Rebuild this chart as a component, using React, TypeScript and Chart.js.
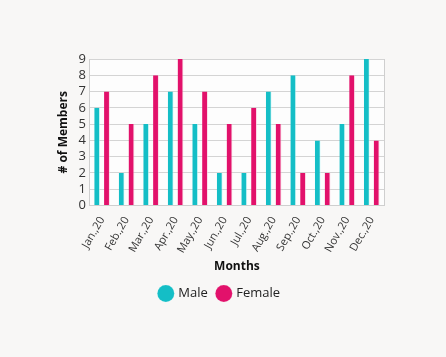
import React, { useEffect, useRef } from "react";
import { Chart, registerables } from "chart.js";

Chart.register(...registerables);

const months = ["Jan.,20", "Feb.,20", "Mar.,20", "Apr.,20", "May.,20", "Jun.,20", "Jul.,20", "Aug.,20", "Sep.,20", "Oct.,20", "Nov.,20", "Dec.,20"];
const maleValues = [6, 2, 5, 7, 5, 2, 2, 7, 8, 4, 5, 9];
const femaleValues = [7, 5, 8, 9, 7, 5, 6, 5, 2, 2, 8, 4];
const yTicks = [0, 1, 2, 3, 4, 5, 6, 7, 8, 9];

const FONT = "'Open Sans', 'DejaVu Sans', sans-serif";

const areaPlugin = {
  id: "areaBg",
  beforeDraw(chart: any) {
    const { ctx, chartArea } = chart;
    ctx.save();
    ctx.fillStyle = "#fdfdfd";
    ctx.fillRect(chartArea.left, chartArea.top, chartArea.right - chartArea.left, chartArea.bottom - chartArea.top);
    ctx.restore();
  },
  afterDatasetsDraw(chart: any) {
    const { ctx, chartArea } = chart;
    ctx.save();
    ctx.strokeStyle = "#cfcfcf";
    ctx.lineWidth = 1;
    ctx.beginPath();
    ctx.moveTo(Math.round(chartArea.right) + 0.5, chartArea.top);
    ctx.lineTo(Math.round(chartArea.right) + 0.5, chartArea.bottom);
    ctx.stroke();
    ctx.restore();
  },
};

export default function App() {
  const ref = useRef<HTMLCanvasElement>(null);
  useEffect(() => {
    document.body.style.margin = "0";
    const chart = new Chart(ref.current!, {
      type: "bar",
      data: {
        labels: months,
        datasets: [
          { label: "Male", data: maleValues, backgroundColor: "#14bec6", borderColor: "rgba(200,250,250,0.6)", borderWidth: { right: 1 } as any, barPercentage: 0.6, categoryPercentage: 0.8 },
          { label: "Female", data: femaleValues, backgroundColor: "#e2116b", borderColor: "rgba(250,200,220,0.6)", borderWidth: { right: 1 } as any, barPercentage: 0.6, categoryPercentage: 0.8 },
        ],
      },
      options: {
        animation: false,
        responsive: false,
        layout: { padding: { left: 56, right: 62, top: 59, bottom: 47 } },
        plugins: {
          legend: {
            position: "bottom",
            labels: { usePointStyle: true, pointStyle: "circle", boxWidth: 12, boxHeight: 12, padding: 10, color: "#222", font: { family: FONT, size: 13 } },
          },
          tooltip: { enabled: false },
        },
        scales: {
          x: {
            grid: { display: false },
            border: { display: true, color: "#cfcfcf" },
            ticks: { color: "#333", font: { family: FONT, size: 11 }, maxRotation: 60, minRotation: 60, padding: 1 },
            title: { display: true, text: "Months", color: "#111", font: { family: FONT, size: 12, weight: "bold" }, padding: { top: 3, bottom: 3 } },
          },
          y: {
            min: 0,
            max: 9,
            afterBuildTicks: (axis: any) => { axis.ticks = yTicks.map((v) => ({ value: v })); },
            ticks: { autoSkip: false, color: "#333", font: { family: FONT, size: 13 }, padding: 4 },
            grid: { color: "#d4d4d4", tickLength: 0 },
            border: { display: true, color: "#cfcfcf" },
            title: { display: true, text: "# of Members", color: "#111", font: { family: FONT, size: 12, weight: "bold" }, padding: { top: 0, bottom: 4 } },
          },
        },
      },
      plugins: [areaPlugin],
    });
    return () => chart.destroy();
  }, []);
  return (
    <div style={{ width: 446, height: 357, background: "#f8f7f6" }}>
      <canvas ref={ref} width={446} height={357} />
    </div>
  );
}
